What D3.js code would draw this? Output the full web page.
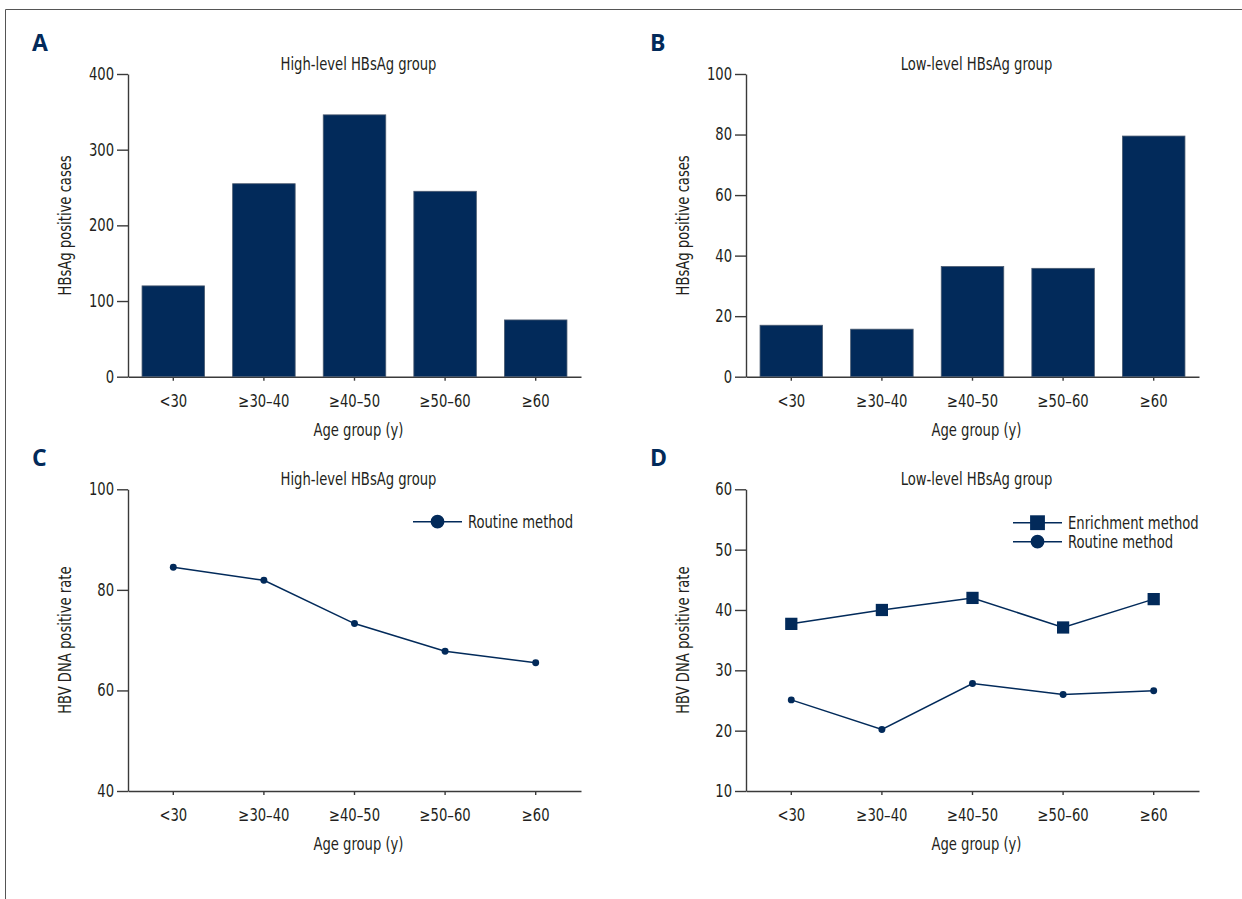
<!DOCTYPE html>
<html>
<head>
<meta charset="utf-8">
<script src="https://cdn.jsdelivr.net/npm/d3@7"></script>
<style>
body { margin: 0; background: #fff; }
svg { display: block; }
text { font-family: 'Liberation Sans Narrow', 'DejaVu Sans Condensed', sans-serif; fill: #231f20; }
.axis path, .axis line { stroke: #3a3a3a; stroke-width: 1.4; }
.axis text { font-size: 17px; }
</style>
</head>
<body>
<svg id="viz" width="1242" height="899"></svg>
<script>
// data
var ageGroups = ['<30', '≥30–40', '≥40–50', '≥50–60', '≥60'];
var highCases = [120, 255, 346, 245, 75];
var lowCases = [17, 15.7, 36.4, 35.8, 79.5];
var highRoutine = [84.5, 81.9, 73.3, 67.8, 65.5];
var lowEnrichment = [37.7, 40.0, 42.0, 37.1, 41.8];
var lowRoutine = [25.1, 20.2, 27.8, 26.0, 26.6];

var ticksA = [0, 100, 200, 300, 400];
var ticksB = [0, 20, 40, 60, 80, 100];
var ticksC = [40, 60, 80, 100];
var ticksD = [10, 20, 30, 40, 50, 60];

var navy = '#022a5a';

var svg = d3.select('#viz');

// outer frame (top + left only)
svg.append('path')
    .attr('d', 'M5.5,899 V9.5 H1242')
    .attr('fill', 'none')
    .attr('stroke', '#555')
    .attr('stroke-width', 1);

function panel(opt) {
    var g = svg.append('g');

    var x = d3.scaleBand()
        .domain(ageGroups)
        .range([opt.left, opt.right])
        .paddingInner(0.31)
        .paddingOuter(0.155);

    var y = d3.scaleLinear()
        .domain(opt.domain)
        .range([opt.bottom, opt.top]);

    g.append('g')
        .attr('class', 'axis')
        .attr('transform', 'translate(0,' + opt.bottom + ')')
        .call(d3.axisBottom(x).tickSizeInner(4).tickSizeOuter(0).tickPadding(14));

    g.append('g')
        .attr('class', 'axis')
        .attr('transform', 'translate(' + opt.left + ',0)')
        .call(d3.axisLeft(y).tickValues(opt.ticks).tickSizeInner(11).tickSizeOuter(0).tickPadding(3).tickFormat(d3.format('d')));

    g.selectAll('.axis text').attr('fill', '#231f20');

    // panel letter
    g.append('text')
        .attr('class', 'letter')
        .attr('x', opt.left - 96)
        .attr('y', opt.top - 23)
        .style('font-family', "'Open Sans', 'DejaVu Sans', sans-serif")
        .style('font-weight', 'bold')
        .style('font-size', '23px')
        .style('fill', navy)
        .text(opt.letter);

    // title
    g.append('text')
        .attr('x', (opt.left + opt.right) / 2 + 4)
        .attr('y', opt.top - 4)
        .attr('text-anchor', 'middle')
        .style('font-size', '17px')
        .text(opt.title);

    // y label
    g.append('text')
        .attr('transform', 'translate(' + (opt.left - 57) + ',' + (opt.top + opt.bottom) / 2 + ') rotate(-90)')
        .attr('text-anchor', 'middle')
        .style('font-size', '17px')
        .text(opt.ylabel);

    // x label
    g.append('text')
        .attr('x', (opt.left + opt.right) / 2 + 4)
        .attr('y', opt.bottom + 59)
        .attr('text-anchor', 'middle')
        .style('font-size', '17px')
        .text('Age group (y)');

    return { g: g, x: x, y: y };
}

function bars(p, values) {
    p.g.selectAll('rect.bar')
        .data(values)
        .enter().append('rect')
        .attr('class', 'bar')
        .attr('x', function(d, i) { return p.x(ageGroups[i]); })
        .attr('width', p.x.bandwidth())
        .attr('y', function(d) { return p.y(d); })
        .attr('height', function(d) { return p.y(0) - p.y(d); })
        .attr('fill', navy)
        .attr('stroke', '#4a5a70')
        .attr('stroke-width', 0.8);
}

function series(p, values, shape, size) {
    var cx = function(d, i) { return p.x(ageGroups[i]) + p.x.bandwidth() / 2; };
    var line = d3.line()
        .x(cx)
        .y(function(d) { return p.y(d); });

    p.g.append('path')
        .datum(values)
        .attr('d', line)
        .attr('fill', 'none')
        .attr('stroke', navy)
        .attr('stroke-width', 1.5);

    p.g.selectAll(null)
        .data(values)
        .enter().append('path')
        .attr('transform', function(d, i) { return 'translate(' + cx(d, i) + ',' + p.y(d) + ')'; })
        .attr('d', d3.symbol().type(shape).size(size))
        .attr('fill', navy);
}

function legend(p, items, x0, y0) {
    items.forEach(function(it, i) {
        var yy = y0 + i * 19;
        p.g.append('line')
            .attr('x1', x0).attr('x2', x0 + 49)
            .attr('y1', yy).attr('y2', yy)
            .attr('stroke', navy)
            .attr('stroke-width', 1.5);
        p.g.append('path')
            .attr('transform', 'translate(' + (x0 + 24.5) + ',' + yy + ')')
            .attr('d', d3.symbol().type(it.shape).size(it.size))
            .attr('fill', navy);
        p.g.append('text')
            .attr('x', x0 + 55)
            .attr('y', yy)
            .attr('dy', '0.35em')
            .style('font-size', '17px')
            .text(it.name);
    });
}

var pA = panel({ letter: 'A', title: 'High-level HBsAg group', ylabel: 'HBsAg positive cases',
    left: 128, right: 581, top: 74, bottom: 376.7, domain: [0, 400], ticks: ticksA });
bars(pA, highCases);

var pB = panel({ letter: 'B', title: 'Low-level HBsAg group', ylabel: 'HBsAg positive cases',
    left: 746, right: 1199, top: 74, bottom: 376.7, domain: [0, 100], ticks: ticksB });
bars(pB, lowCases);

var pC = panel({ letter: 'C', title: 'High-level HBsAg group', ylabel: 'HBV DNA positive rate',
    left: 128, right: 581, top: 489.3, bottom: 791, domain: [40, 100], ticks: ticksC });
series(pC, highRoutine, d3.symbolCircle, 38);
legend(pC, [{ name: 'Routine method', shape: d3.symbolCircle, size: 150 }], 413, 521.7);

var pD = panel({ letter: 'D', title: 'Low-level HBsAg group', ylabel: 'HBV DNA positive rate',
    left: 746, right: 1199, top: 489.3, bottom: 791, domain: [10, 60], ticks: ticksD });
series(pD, lowEnrichment, d3.symbolSquare, 150);
series(pD, lowRoutine, d3.symbolCircle, 38);
legend(pD, [
    { name: 'Enrichment method', shape: d3.symbolSquare, size: 220 },
    { name: 'Routine method', shape: d3.symbolCircle, size: 150 }
], 1013, 522.7);

// the original uses a condensed face; squeeze the glyphs horizontally to match
svg.selectAll('text:not(.letter)').each(function() {
    var len = this.getComputedTextLength();
    d3.select(this)
        .attr('textLength', len * 0.86)
        .attr('lengthAdjust', 'spacingAndGlyphs');
});
</script>
</body>
</html>
